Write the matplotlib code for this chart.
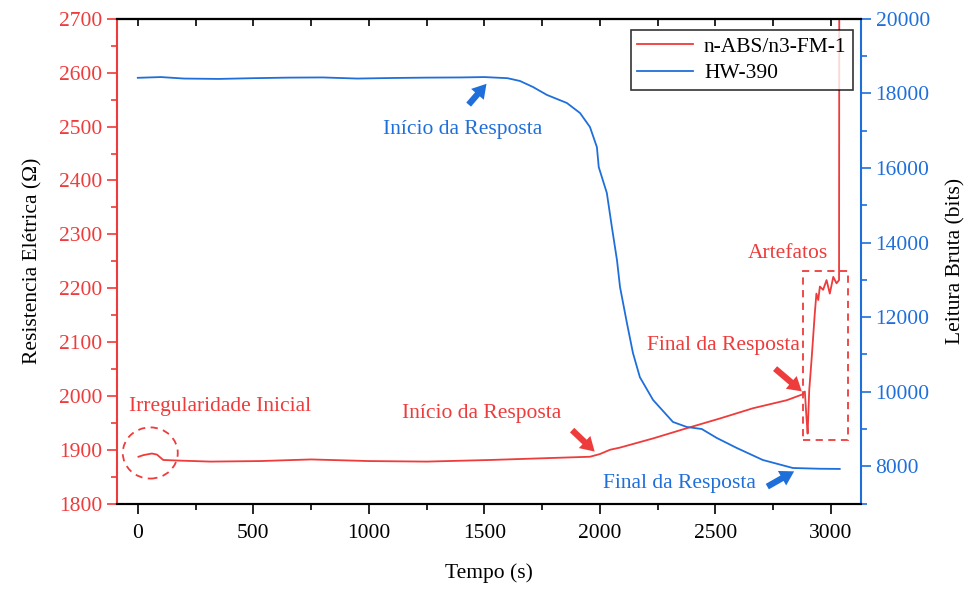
import matplotlib
matplotlib.use("Agg")
import matplotlib.pyplot as plt
from matplotlib.patches import Ellipse, Rectangle
from matplotlib.ticker import MultipleLocator

plt.rcParams['font.family'] = ['Liberation Serif', 'DejaVu Serif']

RED = '#EE3B3B'
BLUE = '#1F6FDB'

# sensor n-ABS/n3-FM-1 (resistencia, ohm)
t_red = [3, 24, 61, 83, 110, 170, 314, 530, 750, 1000, 1250, 1525, 1741, 1957, 2000,
         2044, 2087, 2230, 2376, 2519, 2662, 2809, 2878, 2887, 2894, 2899, 2906, 2916,
         2930, 2937, 2945, 2952, 2966, 2981, 2995, 3010, 3024, 3035, 3036]
r_red = [1887, 1890, 1893, 1891, 1881, 1880, 1878, 1879, 1882, 1879, 1878, 1881, 1884, 1887, 1892,
         1900, 1904, 1921, 1940, 1958, 1977, 1992, 2003, 2008, 1960, 1930, 2011, 2067,
         2153, 2190, 2178, 2203, 2197, 2215, 2190, 2221, 2209, 2215, 2760]

# sensor HW-390 (leitura bruta, bits)
t_blue = [0, 100, 200, 350, 500, 650, 800, 950, 1100, 1250, 1400, 1500, 1600, 1654, 1710,
          1771, 1857, 1914, 1957, 1987, 1995, 2030, 2052, 2074, 2087, 2117, 2143, 2173,
          2230, 2316, 2376, 2441, 2506, 2593, 2705, 2835, 2950, 3038]
b_blue = [18420, 18440, 18400, 18390, 18410, 18425, 18430, 18400, 18415, 18425, 18430, 18440,
          18410, 18335, 18175, 17960, 17745, 17475, 17100, 16560, 16025, 15330, 14410, 13525,
          12810, 11840, 11040, 10390, 9780, 9190, 9055, 9000, 8760, 8490, 8170, 7955, 7935, 7930]

fig = plt.figure(figsize=(9.71, 5.92), dpi=100)
ax1 = fig.add_axes([117/971, 1-503.6/592, (861-117)/971, (503.6-18.9)/592])
ax2 = ax1.twinx()

l1, = ax1.plot(t_red, r_red, color=RED, lw=1.3, label='n-ABS/n3-FM-1')
l2, = ax2.plot(t_blue, b_blue, color=BLUE, lw=1.3, label='HW-390')

ax1.set_xlim(-90, 3130)
ax1.set_ylim(1800, 2700)
ax2.set_ylim(7000, 20000)

ax1.xaxis.set_major_locator(MultipleLocator(500))
ax1.xaxis.set_minor_locator(MultipleLocator(250))
ax1.yaxis.set_major_locator(MultipleLocator(100))
ax1.yaxis.set_minor_locator(MultipleLocator(50))
ax2.yaxis.set_major_locator(MultipleLocator(2000))
ax2.yaxis.set_minor_locator(MultipleLocator(1000))

fs = 15.5
ax1.tick_params(axis='x', which='both', direction='out', top=False, labelsize=fs, pad=8, color='black')
ax1.tick_params(axis='x', which='major', length=7, width=1.2)
ax1.tick_params(axis='x', which='minor', length=4, width=1.2)
ax1.tick_params(axis='y', which='both', colors=RED, labelsize=fs, width=1.2)
ax1.tick_params(axis='y', which='major', length=7)
ax1.tick_params(axis='y', which='minor', length=4)
ax2.tick_params(axis='y', which='both', colors=BLUE, labelsize=fs, width=1.2)
ax2.tick_params(axis='y', which='major', length=7)
ax2.tick_params(axis='y', which='minor', length=4)

# ticks on top, pointing inwards
sec = ax1.secondary_xaxis('top')
sec.xaxis.set_major_locator(MultipleLocator(500))
sec.xaxis.set_minor_locator(MultipleLocator(250))
sec.tick_params(which='both', direction='in', labeltop=False, length=5, width=1.2)

for ax in (ax1, ax2):
    for s in ax.spines.values():
        s.set_linewidth(1.5)
ax1.spines['left'].set_color(RED)
ax2.spines['left'].set_visible(False)
ax2.spines['right'].set_color(BLUE)
ax1.spines['right'].set_visible(False)
ax2.spines['bottom'].set_color('black')
ax2.spines['top'].set_color('black')
sec.spines['top'].set_linewidth(1.5)

ax1.set_xlabel('Tempo (s)', fontsize=fs, labelpad=14)
ax1.set_ylabel('Resistencia Elétrica (Ω)', fontsize=fs, labelpad=12)
ax2.set_ylabel('Leitura Bruta (bits)', fontsize=fs, labelpad=12)

leg = ax2.legend(handles=[l1, l2], loc='upper right', bbox_to_anchor=(853/971, 1-30/592),
                 bbox_transform=fig.transFigure, fontsize=fs, frameon=True, fancybox=False,
                 edgecolor='black', borderaxespad=0, handlelength=2.6, borderpad=0.3,
                 labelspacing=0.3, handletextpad=0.5)
leg.get_frame().set_linewidth(1.2)
leg.set_zorder(10)

# annotations - red axis
arrow_red = dict(arrowstyle='simple,head_width=1.2,head_length=1.0,tail_width=0.45',
                 color=RED, lw=0)
ax1.text(358, 1981, 'Irregularidade Inicial', color=RED, fontsize=fs, ha='center', va='center')
ax1.text(1490, 1968, 'Início da Resposta', color=RED, fontsize=fs, ha='center', va='center')
ax1.text(2533, 2094, 'Final da Resposta', color=RED, fontsize=fs, ha='center', va='center')
ax1.text(2813, 2265, 'Artefatos', color=RED, fontsize=fs, ha='center', va='center')
ax1.annotate('', xy=(1986, 1893), xytext=(1871, 1940), arrowprops=arrow_red)
ax1.annotate('', xy=(2883, 2005), xytext=(2749, 2054), arrowprops=arrow_red)
ax1.add_patch(Ellipse((54, 1894), 238, 95, fill=False, ec=RED, ls=(0, (4, 3)), lw=1.3))
ax1.add_patch(Rectangle((2880, 1918), 194, 313, fill=False, ec=RED, ls=(0, (4, 3)), lw=1.3))

# annotations - blue axis
arrow_blue = dict(arrowstyle='simple,head_width=1.2,head_length=1.0,tail_width=0.45',
                  color=BLUE, lw=0)
ax2.text(1408, 17047, 'Início da Resposta', color=BLUE, fontsize=fs, ha='center', va='center')
ax2.text(2346, 7527, 'Final da Resposta', color=BLUE, fontsize=fs, ha='center', va='center')
ax2.annotate('', xy=(1517, 18316), xytext=(1424, 17645), arrowprops=arrow_blue)
ax2.annotate('', xy=(2851, 7902), xytext=(2714, 7419), arrowprops=arrow_blue)

fig.savefig('out.png', dpi=100)
